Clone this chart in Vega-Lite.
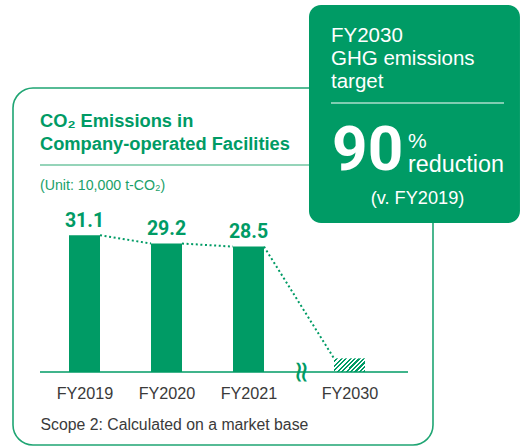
{
  "$schema": "https://vega.github.io/schema/vega-lite/v6.json",
  "width": 420,
  "height": 357,
  "autosize": {"type": "none"},
  "padding": {"left": 13, "top": 88, "right": 88, "bottom": 1},
  "background": "white",
  "config": {
    "view": {"stroke": "#1fa573", "strokeWidth": 1.6, "cornerRadius": 20},
    "text": {"font": "Liberation Sans"}
  },
  "data": {
    "values": [
      {"year": 2019, "value": 31.1},
      {"year": 2020, "value": 29.2},
      {"year": 2021, "value": 28.5},
      {"year": 2030, "value": 3.1}
    ]
  },
  "layer": [
    {
      "mark": {"type": "bar", "size": 31},
      "encoding": {
        "x": {
          "field": "year",
          "type": "quantitative",
          "scale": {"domain": [2019, 2021, 2030], "range": [71.5, 235.5, 336.5], "padding": 0, "nice": false, "zero": false},
          "axis": {
            "values": [2019, 2020, 2021, 2030],
            "labelExpr": "'FY' + datum.value",
            "offset": -73,
            "domain": false,
            "ticks": false,
            "tickSize": 0,
            "grid": false,
            "labelPadding": 13,
            "labelFont": "Liberation Sans",
            "labelFontSize": 16.2,
            "labelColor": "#3a3a3a",
            "labelFlush": false,
            "labelOverlap": false,
            "title": "Scope 2: Calculated on a market base",
            "titleFont": "Liberation Sans",
            "titleFontSize": 15.8,
            "titleFontWeight": "normal",
            "titleColor": "#3a3a3a",
            "titleAlign": "left",
            "titleBaseline": "alphabetic",
            "titleX": 27,
            "titleY": 57
          }
        },
        "y": {
          "field": "value",
          "type": "quantitative",
          "scale": {"domain": [-16.59, 64.55], "nice": false, "zero": false, "padding": 0},
          "axis": null
        },
        "y2": {"datum": 0},
        "color": {
          "condition": {
            "test": "datum.year === 2030",
            "value": {
              "gradient": "linear",
              "x1": 0, "y1": 0, "x2": 1.21, "y2": 0.53,
              "stops": [
                {"offset": 0, "color": "#ffffff"}, {"offset": 0.05, "color": "#ffffff"}, {"offset": 0.05, "color": "#009b65"}, {"offset": 0.1, "color": "#009b65"},
                {"offset": 0.1, "color": "#ffffff"}, {"offset": 0.15, "color": "#ffffff"}, {"offset": 0.15, "color": "#009b65"}, {"offset": 0.2, "color": "#009b65"},
                {"offset": 0.2, "color": "#ffffff"}, {"offset": 0.25, "color": "#ffffff"}, {"offset": 0.25, "color": "#009b65"}, {"offset": 0.3, "color": "#009b65"},
                {"offset": 0.3, "color": "#ffffff"}, {"offset": 0.35, "color": "#ffffff"}, {"offset": 0.35, "color": "#009b65"}, {"offset": 0.4, "color": "#009b65"},
                {"offset": 0.4, "color": "#ffffff"}, {"offset": 0.45, "color": "#ffffff"}, {"offset": 0.45, "color": "#009b65"}, {"offset": 0.5, "color": "#009b65"},
                {"offset": 0.5, "color": "#ffffff"}, {"offset": 0.55, "color": "#ffffff"}, {"offset": 0.55, "color": "#009b65"}, {"offset": 0.6, "color": "#009b65"},
                {"offset": 0.6, "color": "#ffffff"}, {"offset": 0.65, "color": "#ffffff"}, {"offset": 0.65, "color": "#009b65"}, {"offset": 0.7, "color": "#009b65"},
                {"offset": 0.7, "color": "#ffffff"}, {"offset": 0.75, "color": "#ffffff"}, {"offset": 0.75, "color": "#009b65"}, {"offset": 0.8, "color": "#009b65"},
                {"offset": 0.8, "color": "#ffffff"}, {"offset": 0.85, "color": "#ffffff"}, {"offset": 0.85, "color": "#009b65"}, {"offset": 0.9, "color": "#009b65"},
                {"offset": 0.9, "color": "#ffffff"}, {"offset": 0.95, "color": "#ffffff"}, {"offset": 0.95, "color": "#009b65"}, {"offset": 1, "color": "#009b65"}
              ]
            }
          },
          "value": "#009b65"
        }
      }
    },
    {
      "data": {"values": [{}]},
      "mark": {"type": "rule", "color": "#72c6a2", "strokeWidth": 1.5},
      "encoding": {
        "x": {"datum": 2018.457, "type": "quantitative"},
        "x2": {"datum": 2027.0},
        "y": {"datum": 47.05, "type": "quantitative", "axis": null}
      }
    },
    {
      "data": {"values": [{}]},
      "mark": {"type": "text", "text": ["CO₂ Emissions in", "Company-operated Facilities"], "align": "left", "baseline": "alphabetic", "lineHeight": 23, "fontSize": 18.3, "fontWeight": "bold", "font": "Liberation Sans", "color": "#009b65"},
      "encoding": {
        "x": {"datum": 2018.457, "type": "quantitative"},
        "y": {"datum": 55.75, "type": "quantitative", "axis": null}
      }
    },
    {
      "data": {"values": [{}]},
      "mark": {"type": "text", "text": "(Unit: 10,000 t-CO₂)", "align": "left", "baseline": "alphabetic", "fontSize": 14.2, "font": "Liberation Sans", "color": "#1a9f6a"},
      "encoding": {
        "x": {"datum": 2018.457, "type": "quantitative"},
        "y": {"datum": 41.48, "type": "quantitative", "axis": null}
      }
    },
    {
      "data": {"values": [{}]},
      "mark": {"type": "rect", "cornerRadius": 12, "color": "#009b65"},
      "encoding": {
        "x": {"datum": 2026.391, "type": "quantitative"},
        "x2": {"datum": 2045.19},
        "y": {"datum": 83.41, "type": "quantitative", "axis": null},
        "y2": {"datum": 33.86}
      }
    },
    {
      "data": {"values": [{}]},
      "mark": {"type": "text", "text": ["FY2030", "GHG emissions", "target"], "align": "left", "baseline": "alphabetic", "lineHeight": 23.3, "fontSize": 20.5, "font": "Liberation Sans", "color": "white"},
      "encoding": {
        "x": {"datum": 2028.352, "type": "quantitative"},
        "y": {"datum": 75.08, "type": "quantitative", "axis": null}
      }
    },
    {
      "data": {"values": [{}]},
      "mark": {"type": "rule", "color": "white", "strokeWidth": 1.2},
      "encoding": {
        "x": {"datum": 2028.352, "type": "quantitative"},
        "x2": {"datum": 2043.77},
        "y": {"datum": 61.14, "type": "quantitative", "axis": null}
      }
    },
    {
      "data": {"values": [{}]},
      "mark": {"type": "text", "text": "90", "align": "left", "baseline": "alphabetic", "fontSize": 62, "fontWeight": "bold", "font": "Roboto", "color": "white"},
      "encoding": {
        "x": {"datum": 2028.45, "type": "quantitative"},
        "y": {"datum": 45.91, "type": "quantitative", "axis": null}
      }
    },
    {
      "data": {"values": [{}]},
      "mark": {"type": "text", "text": "%", "align": "left", "baseline": "alphabetic", "fontSize": 21, "font": "Liberation Sans", "color": "white"},
      "encoding": {
        "x": {"datum": 2035.213, "type": "quantitative"},
        "y": {"datum": 50.91, "type": "quantitative", "axis": null}
      }
    },
    {
      "data": {"values": [{}]},
      "mark": {"type": "text", "text": "reduction", "align": "left", "baseline": "alphabetic", "fontSize": 23.3, "font": "Liberation Sans", "color": "white"},
      "encoding": {
        "x": {"datum": 2035.213, "type": "quantitative"},
        "y": {"datum": 45.52, "type": "quantitative", "axis": null}
      }
    },
    {
      "data": {"values": [{}]},
      "mark": {"type": "text", "text": "(v. FY2019)", "align": "center", "baseline": "alphabetic", "fontSize": 18.2, "font": "Liberation Sans", "color": "white"},
      "encoding": {
        "x": {"datum": 2036.06, "type": "quantitative"},
        "y": {"datum": 38.18, "type": "quantitative", "axis": null}
      }
    },
    {
      "data": {"values": [{}]},
      "mark": {"type": "rule", "color": "#009b65", "strokeWidth": 1.5},
      "encoding": {
        "x": {"datum": 2018.457, "type": "quantitative"},
        "x2": {"datum": 2035.213},
        "y": {"datum": 0, "type": "quantitative", "axis": null}
      }
    },
    {
      "transform": [
        {"window": [{"op": "lead", "field": "year", "as": "nextYear"}, {"op": "lead", "field": "value", "as": "nextValue"}], "sort": [{"field": "year"}]},
        {"filter": "datum.nextYear != null"}
      ],
      "mark": {"type": "rule", "color": "#009b65", "strokeWidth": 2, "strokeDash": [2, 2.6], "xOffset": 15.5, "x2Offset": -15.5},
      "encoding": {
        "x": {"field": "year", "type": "quantitative"},
        "x2": {"field": "nextYear"},
        "y": {"field": "value", "type": "quantitative", "axis": null},
        "y2": {"field": "nextValue"}
      }
    },
    {
      "transform": [{"filter": "datum.year !== 2030"}],
      "mark": {"type": "text", "align": "center", "baseline": "alphabetic", "dy": -8.5, "fontSize": 19.5, "fontWeight": "bold", "font": "Roboto", "color": "#009b65"},
      "encoding": {
        "x": {"field": "year", "type": "quantitative"},
        "y": {"field": "value", "type": "quantitative", "axis": null},
        "text": {"field": "value", "type": "quantitative", "format": ".1f"}
      }
    },
    {
      "data": {"values": [{}]},
      "mark": {"type": "text", "text": "≈", "angle": 90, "align": "center", "baseline": "middle", "fontSize": 30, "font": "DejaVu Sans", "color": "#009b65"},
      "encoding": {
        "x": {"datum": 2025.634, "type": "quantitative"},
        "y": {"datum": 0, "type": "quantitative", "axis": null}
      }
    }
  ]
}
